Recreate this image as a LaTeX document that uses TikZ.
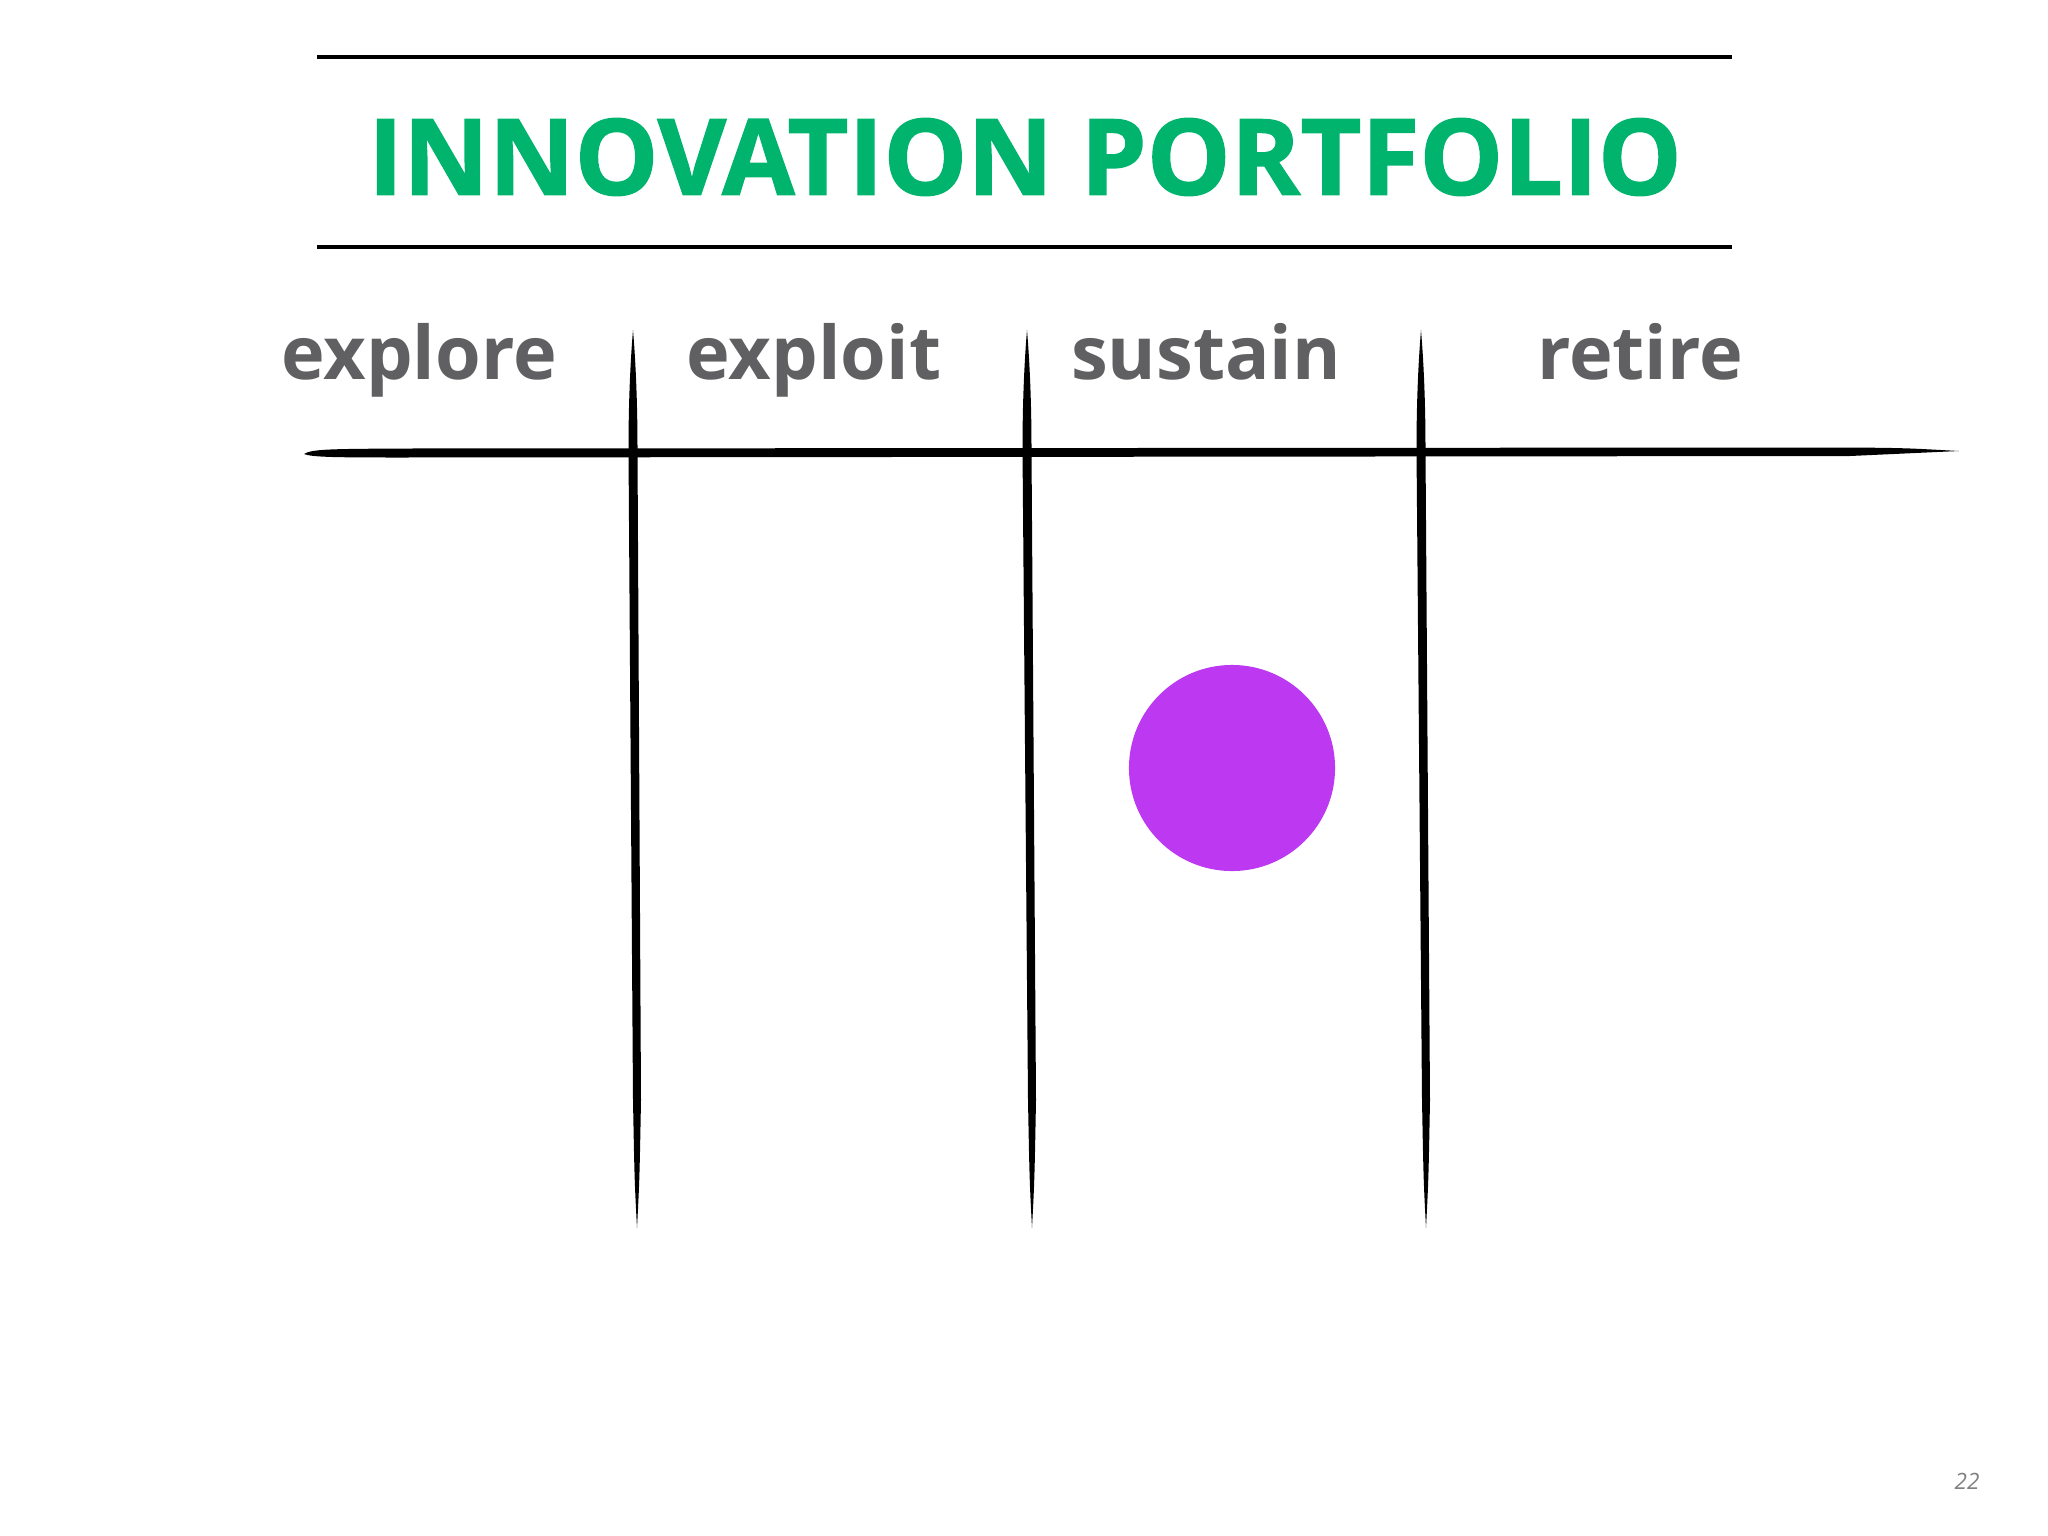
\documentclass[tikz,border=0pt]{standalone}
\usepackage{fontspec}
\setmainfont{Open Sans}
\newfontfamily\heavyfont{Open Sans}[BoldFeatures={FakeBold=1.3}]
\usepackage{tikz}
\usetikzlibrary{positioning}
\definecolor{titlegreen}{RGB}{0,180,110}
\definecolor{phasegray}{RGB}{96,96,98}
\definecolor{dotpurple}{RGB}{189,56,241}
\tikzset{
  x=0.01cm, y=-0.01cm,
  rule/.style={line width=0.04cm, black},
  headline/.style={inner sep=0pt, text=titlegreen, font=\fontsize{30}{30}\selectfont\heavyfont\bfseries},
  phase/.style={inner sep=0pt, anchor=base, text=phasegray, font=\fontsize{21}{21}\selectfont\bfseries},
  brush/.style={fill=black},
  pagenum/.style={inner sep=0pt, text=gray, font=\fontsize{6.4}{6.4}\selectfont\itshape},
}

\begin{document}
\begin{tikzpicture}
  \useasboundingbox (0,0) rectangle (2048,1536);

  % title between two rules
  \coordinate (ruleAl) at (317,57);  \coordinate (ruleAr) at (1732,57);
  \coordinate (ruleBl) at (317,247); \coordinate (ruleBr) at (1732,247);
  \draw[rule] (ruleAl) -- (ruleAr);
  \draw[rule] (ruleBl) -- (ruleBr);
  \node[headline] (title) at (1025,157) {INNOVATION PORTFOLIO};

  % column heads
  \node[phase] (explore) at (419,379) {explore};
  \node[phase] (exploit) at (814,379) {exploit};
  \node[phase] (sustain) at (1206,379) {sustain};
  \node[phase] (retire)  at (1640,379) {retire};

  % hand drawn grid
  \fill[brush] (304,454) .. controls (312,449) and (330,449) .. (400,448.5)
        -- (1850,447.5) .. controls (1905,448) .. (1959,451)
        .. controls (1905,453) .. (1850,456) -- (400,457.5)
        .. controls (330,457.5) and (312,457) .. cycle;
  \foreach \t/\b in {633/637, 1027/1032, 1421/1426} {
    \fill[brush] (\t,330) .. controls (\t+2.5,360) and (\t+4.5,400) .. (\t+4.5,450)
          -- (\b+4,1100) .. controls (\b+2.5,1180) .. (\b,1228)
          .. controls (\b-2.5,1180) .. (\b-4,1100) -- (\t-4.5,450)
          .. controls (\t-4.5,400) and (\t-2.5,360) .. cycle;
  }

  % item
  \node[circle, fill=dotpurple, inner sep=0pt, minimum size=2.06cm] (dot) at (1232,768) {};

  \node[pagenum] (page) at (1967,1481) {22};
\end{tikzpicture}
\end{document}
